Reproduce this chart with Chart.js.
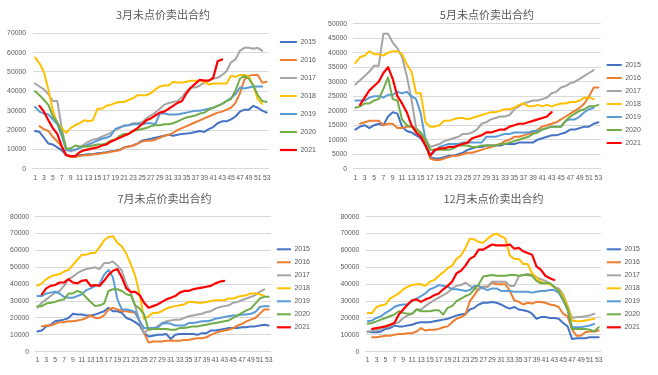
<!DOCTYPE html>
<html>
<head>
<meta charset="utf-8">
<script src="https://cdn.jsdelivr.net/npm/chart.js@4/dist/chart.umd.min.js"></script>
<style>
html,body{margin:0;padding:0;background:#fff;width:658px;height:375px;overflow:hidden;}
canvas{position:absolute;}
</style>
</head>
<body>
<canvas id="c1" width="329" height="187" style="left:0;top:0;width:329px;height:187px"></canvas>
<canvas id="c2" width="335" height="187" style="left:323px;top:0;width:335px;height:187px"></canvas>
<canvas id="c3" width="329" height="190" style="left:0;top:185px;width:329px;height:190px"></canvas>
<canvas id="c4" width="329" height="190" style="left:329px;top:185px;width:329px;height:190px"></canvas>
<script>
// ---------- data ----------
const weeks = Array.from({length: 53}, (_, i) => String(i + 1));
const years = ['2015', '2016', '2017', '2018', '2019', '2020', '2021'];
const titles = ['3月未点价卖出合约', '5月未点价卖出合约', '7月未点价卖出合约', '12月未点价卖出合约'];
const N = null;

// 3月
const mar2015 = [19500,19000,16000,13000,12500,11000,9500,7000,6500,6500,7000,7200,7500,7500,8000,8200,8500,9000,9300,9800,11000,11500,12000,13000,14500,15000,15500,16000,16500,17000,17500,17000,17500,18000,18200,18500,19000,19500,19000,20500,21500,23500,24500,24500,25500,27000,29500,30500,30500,32500,31500,30000,29000];
const mar2016 = [N,22000,20500,19500,16500,14000,11500,7000,6000,6000,6500,7000,7000,7500,7500,8000,8200,8800,9200,9500,11000,11500,12000,13000,14000,14500,14500,15000,16000,17000,17500,18500,20000,21000,22000,23000,24000,25000,26000,27000,28000,29000,29500,30500,31500,34000,39000,46000,48000,48500,48500,44500,45000];
const mar2017 = [44000,42500,41000,38500,35000,35000,21000,10000,9000,9500,11000,12500,14000,15000,15500,16500,17500,18500,20000,21000,22500,22500,23500,23500,24000,26000,27500,29000,31000,33000,34000,34500,35000,37000,40000,42000,42000,43000,44500,45500,46500,47000,48500,50500,55000,56500,61000,62500,62500,62000,62500,61000,N];
const mar2018 = [57500,54500,50000,41000,30000,23500,21000,18500,21000,22500,23500,25000,24500,25000,31000,31000,32500,33000,34000,34500,34500,35500,36500,38000,38000,38000,39000,41000,42500,43000,43000,45000,44500,44500,45000,45500,45500,45500,45000,43500,44000,44000,44000,44000,48000,47500,48500,48500,47500,43000,36000,33500,N];
const mar2019 = [32000,29500,28500,28000,25500,23000,17000,9500,9500,10000,10500,11500,12500,13500,14500,15500,16000,17000,20500,21500,22000,22500,23000,23000,23000,23500,23500,23000,28500,28500,28000,28000,28000,28500,29000,29500,30000,30000,30500,31000,31500,32500,33500,35000,36500,38500,42000,41500,42000,42500,42500,42500,N];
const mar2020 = [40000,38000,35500,33000,27000,24000,19000,10500,10500,12000,11500,11500,11500,12000,12500,12500,13000,14500,15000,17000,18000,18000,19500,20000,20500,21000,22000,22500,22500,23000,23000,23500,24500,25500,26500,27000,27500,28500,29000,30500,31500,32500,33500,35000,36000,40500,46500,48000,46500,43000,38000,35000,34500];
const mar2021 = [N,32500,29500,25000,21000,18000,11500,7000,6500,6500,8500,9500,10000,10500,11000,12000,12500,14000,15000,16000,17000,18000,19500,21000,23000,25000,26000,27500,29000,29500,31000,32500,34000,35000,39000,42000,44000,46000,45500,45500,47000,55500,56500,N,N,N,N,N,N,N,N,N,N];

// 5月
const may2015 = [13500,14500,15000,14000,15000,15500,15000,18000,19500,19000,14500,13000,12500,11500,10500,8000,4000,3500,3500,4000,4500,4500,5000,5500,6500,7000,7500,7500,8000,8000,8000,8000,8500,8500,8500,9000,9000,9000,9000,10000,10500,11000,11500,11500,12000,12500,13500,13500,14000,14500,14500,15500,16000];
const may2016 = [N,15500,16000,16500,16500,16500,15000,15500,15500,14000,14000,14500,14500,14000,12000,9000,3500,3000,3000,3500,4000,4500,4500,5000,5500,5500,6000,6500,7000,7500,8000,8500,9500,10000,11000,11000,11500,12000,12500,13500,14500,15000,15500,16000,17000,18000,19000,20000,21000,22500,25000,28000,28000];
const may2017 = [29000,30500,32000,33500,35500,35500,46500,46500,43500,41500,38500,32000,24000,14000,12000,10500,7500,8000,8500,9500,10000,10500,11000,12000,12000,12500,13500,15500,16000,17000,17500,18000,18000,18500,20500,21500,22500,23000,23500,23500,24000,24500,26000,26500,28000,28500,29500,30000,31000,32000,33000,34000,N];
const may2018 = [36500,38500,39000,40500,39500,39500,39000,40000,40500,40500,39500,36000,33500,26000,26000,16000,14500,14500,15000,16500,16500,17000,17500,17500,17000,17500,18000,18500,19000,19500,19500,20000,20500,20500,21000,22000,22500,21500,21500,22000,21500,22000,21500,22000,22500,22500,23000,23000,23500,24500,24500,24000,N];
const may2019 = [23500,23500,23500,24500,25000,25000,24500,25500,25500,26500,26000,26500,25000,24000,19000,10000,4500,6000,7500,8000,8500,8500,8500,9000,9000,9000,9000,9000,11000,11000,11000,11500,12000,12000,12500,12500,12500,12500,13000,13000,13500,14000,14500,14500,14500,16500,17000,17000,18000,19500,20500,21000,N];
const may2020 = [21000,21500,22500,22500,23500,24000,27500,31500,24000,23500,17000,15000,14500,13500,12500,10000,6500,6500,6500,6500,6500,7000,8000,8000,8000,7500,7500,8000,8000,8000,8000,8500,8500,9000,9500,10000,10500,11000,12000,12500,13500,14000,14500,14500,14500,16500,18000,19000,20000,20500,21500,21500,22000];
const may2021 = [N,22000,24500,27000,28500,30000,33000,35000,31000,25000,22500,19500,15000,12500,11000,8000,4500,6500,7000,7000,7500,7500,8000,8500,9000,10500,11000,11500,12500,12500,13000,13500,13500,14500,15000,15500,15500,16000,16500,17000,17500,18000,19500,N,N,N,N,N,N,N,N,N,N];

// 7月
const jul2015 = [12000,12500,15000,16000,18000,18500,19000,20000,22500,22000,22000,21500,21500,22000,23000,24000,26000,24000,24000,23000,20000,19000,17500,15500,11000,9000,9500,10000,10000,10500,7500,10000,10500,10500,10500,10500,10000,11000,11000,12500,12500,13000,13500,14000,14000,14000,14500,14500,15000,15000,15500,16000,15500];
const jul2016 = [N,15000,15500,15500,16500,17500,17500,18000,18000,18500,19000,20000,21500,20000,20000,21500,25000,26000,25000,24000,24000,23500,23000,18000,11000,5500,6000,6000,6000,6500,6500,6500,6500,7000,7000,7500,8000,8000,8500,10000,11000,12000,12500,13000,14000,15500,16500,18000,19000,20000,22500,25000,25000];
const jul2017 = [26000,29000,31000,33000,35000,36000,39000,43000,44500,46500,48000,49000,49500,50000,49000,52500,52500,53500,51000,48000,40000,35000,27000,18000,11000,13500,14000,15000,17000,18000,18500,19000,19000,20000,21000,21500,22000,22500,23500,24000,25500,26500,27000,27500,29000,29500,30500,31500,32500,33500,35500,37000,N];
const jul2018 = [39000,40500,43000,44500,45500,46000,47500,48500,51500,54500,57500,57500,58500,58500,62000,66000,68000,68500,64500,62500,58000,52000,45000,34000,19500,21000,23000,23000,24000,25500,26500,27000,27500,28000,29500,29500,29000,29000,29500,30000,30500,30500,30500,31500,31500,32500,33000,33500,34500,34500,34000,33000,N];
const jul2019 = [33000,33000,34500,35000,35500,34500,32500,32000,32000,33000,34000,36500,37500,39000,40000,45500,48500,44000,31000,25000,25000,24500,23500,18000,14000,14000,14000,14000,16500,17000,16500,15500,15500,15500,17000,17000,17500,18000,18000,18500,19500,20000,20500,21000,21500,21500,22000,22000,22500,23500,26500,27000,27000];
const jul2020 = [27000,27000,28500,29000,29500,30500,31000,34500,34500,36000,35000,32000,29500,27000,27500,28500,36000,37000,37000,36000,34000,33500,27500,25500,22000,13000,13500,13500,13500,13500,13000,13000,14000,14000,14500,15000,15000,15500,16000,16500,17000,17500,18000,18500,20000,21500,23000,24500,25500,28500,31500,32500,32500];
const jul2021 = [N,34000,37500,39000,39500,41000,41000,43000,41000,40500,42000,42500,39000,39500,39000,42000,45500,48000,49000,44000,37500,35500,35500,33500,29000,26000,27000,28000,29500,31000,32000,33000,35000,36000,36000,37000,37500,38000,38500,39000,40500,41500,42000,N,N,N,N,N,N,N,N,N,N];

// 12月
const dec2015 = [12000,11500,11500,12000,13500,14000,15500,15000,15000,15500,16000,17000,17500,17500,17500,18000,18500,19000,19500,20500,21500,22000,22500,25000,26000,28000,29000,29000,29500,29000,28000,26500,25500,26500,25000,24500,24000,22500,19500,20500,20500,20000,20000,19500,17000,15000,7500,8000,8000,8000,8500,8500,8500];
const dec2016 = [N,8500,8500,9000,9500,9500,10000,10500,10500,11000,11000,12000,14000,12500,13000,13000,13500,14500,15000,17500,19500,20500,22000,30000,33500,37500,38500,38500,41000,40000,40000,40000,36000,30500,29500,28000,29000,28500,29500,29500,29000,28000,27500,26500,22500,21000,13000,9500,9500,11500,12000,12000,12500];
const dec2017 = [11500,12500,12500,13500,14500,15000,16500,17500,20000,21500,22500,25000,25000,27000,29000,30500,32000,33500,35000,37500,39000,39500,41000,39000,37500,36500,38500,38500,41500,41500,41500,41500,39000,39000,44500,45500,46000,45500,44000,43000,42000,40500,38000,37500,34000,27000,20000,20500,20500,21000,21500,22500,N];
const dec2018 = [23000,23000,26500,27500,28000,31500,33000,34500,37000,38500,39500,40000,40000,39000,41500,42500,45000,47000,49500,51000,55000,57000,61500,67000,66500,65000,64500,67000,69000,70000,68500,67000,57000,55000,55000,52000,52000,46500,44000,41500,40500,40000,38500,36500,33000,27000,18500,18000,18000,18500,19000,19500,N];
const dec2019 = [18000,18500,20000,21000,23000,24500,26500,27500,28000,28000,30000,31500,33000,34500,37000,38000,39500,39000,38500,37000,37000,36500,36000,36500,39000,39000,37500,36500,37500,37500,36000,36000,36000,35500,35500,35500,35500,35000,35500,36000,36000,36500,36500,35000,30500,25000,14500,14500,14500,15000,15500,16500,N];
const dec2020 = [16500,17000,18000,19000,20000,21000,22000,24000,23000,22500,22500,25000,24000,24000,24000,24500,24500,22000,26000,27000,30000,31500,33000,34000,37000,40000,44500,45000,45500,45000,45000,45000,45500,45500,45000,45500,45500,45000,42000,40500,40500,40500,38500,36000,31000,25000,13500,13500,13500,13500,13000,12000,14500];
const dec2021 = [N,13500,14000,14500,15000,16000,17000,22000,25000,28000,30500,31000,29500,31000,32000,33500,34500,37000,39000,41500,46500,48000,51000,55000,56500,60500,60500,62000,63500,63000,63000,63000,63500,61000,61500,59500,58500,57500,50500,48500,45000,43500,42500,N,N,N,N,N,N,N,N,N,N];

// ---------- styles ----------
const colors = ['#4472C4', '#ED7D31', '#A5A5A5', '#FFC000', '#5B9BD5', '#70AD47', '#FF0000'];
const textColor = '#595959';
const gridColor = '#D9D9D9';
const numFont = 'Liberation Sans, Arial, sans-serif';
const cjkFont = '"Noto Sans CJK SC", "Noto Sans", sans-serif';

function makePanel(id, title, series, yMax, yStep, g) {
  const datasets = series.map((d, i) => ({
    label: years[i],
    data: d,
    borderColor: colors[i],
    backgroundColor: colors[i],
    borderWidth: i === 6 ? 2.2 : 2,
    pointRadius: 0,
    tension: 0,
    borderJoinStyle: 'round',
    borderCapStyle: 'round',
    order: 6 - i
  }));
  new Chart(document.getElementById(id), {
    type: 'line',
    data: { labels: weeks, datasets },
    options: {
      responsive: false,
      animation: false,
      events: [],
      layout: { padding: { left: 0, top: g.padT, right: g.padR, bottom: 0 } },
      plugins: {
        tooltip: { enabled: false },
        title: {
          display: true, text: title, color: textColor,
          font: { family: cjkFont, size: 11, weight: 'normal', lineHeight: 1.2 },
          padding: { top: g.tp, bottom: g.tb }
        },
        legend: {
          display: true, position: 'right', align: 'start',
          title: { display: true, text: ' ', font: { size: 1, lineHeight: 1 }, padding: { top: g.T - 1, bottom: 0 } },
          labels: {
            usePointStyle: true, pointStyle: 'line', pointStyleWidth: g.box,
            padding: g.lp, color: textColor,
            font: { family: numFont, size: 7 },
            sort: (a, b) => a.datasetIndex - b.datasetIndex
          }
        }
      },
      scales: {
        x: {
          type: 'category', offset: true,
          grid: { display: false, drawTicks: false },
          border: { display: true, color: gridColor, width: 1 },
          ticks: {
            autoSkip: false, maxRotation: 0, minRotation: 0, padding: g.xtp,
            color: textColor, font: { family: numFont, size: 6.8 },
            callback: (v, i) => (i % 2 === 0 ? weeks[i] : '')
          },
          afterFit: (s) => { s.height = g.xh; s.paddingRight = g.xpr; }
        },
        y: {
          min: 0, max: yMax,
          grid: { color: gridColor, lineWidth: 1, drawTicks: false },
          border: { display: false },
          ticks: {
            stepSize: yStep, padding: g.ytp, color: textColor,
            font: { family: numFont, size: 6.8 },
            callback: (v) => String(v)
          },
          afterFit: (s) => { s.width = g.yw; }
        }
      }
    }
  });
}

makePanel('c1', titles[0], [mar2015, mar2016, mar2017, mar2018, mar2019, mar2020, mar2021], 70000, 10000,
  { padT: 5, padR: 3, tp: 3.4, tb: 11.7, yw: 32.8, ytp: 6.8, xh: 18.3, xtp: 5.2, xpr: 60.1, lp: 11, T: 22.5, box: 17 });
makePanel('c2', titles[1], [may2015, may2016, may2017, may2018, may2019, may2020, may2021], 50000, 5000,
  { padT: 5, padR: 7.2, tp: 3.4, tb: 2.1, yw: 30, ytp: 6, xh: 18.3, xtp: 5.2, xpr: 57, lp: 6, T: 50.5, box: 15 });
makePanel('c3', titles[2], [jul2015, jul2016, jul2017, jul2018, jul2019, jul2020, jul2021], 80000, 10000,
  { padT: 5, padR: 0, tp: 2.4, tb: 11.1, yw: 35.1, ytp: 6.1, xh: 23.3, xtp: 4.2, xpr: 58.1, lp: 6, T: 49.8, box: 14 });
makePanel('c4', titles[3], [dec2015, dec2016, dec2017, dec2018, dec2019, dec2020, dec2021], 80000, 10000,
  { padT: 5, padR: 0, tp: 2.4, tb: 11.1, yw: 36.5, ytp: 6.2, xh: 23.3, xtp: 4.2, xpr: 57.1, lp: 6, T: 49.8, box: 14 });
</script>
</body>
</html>
